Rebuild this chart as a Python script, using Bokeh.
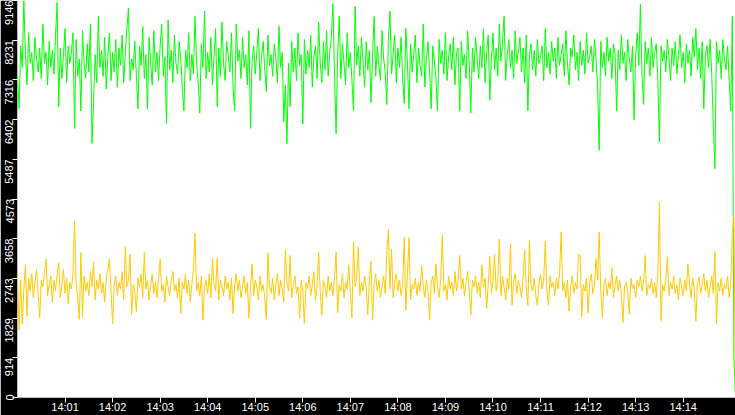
import pandas as pd
from bokeh.plotting import figure
from bokeh.models import Range1d, FixedTicker, DatetimeTickFormatter, ColumnDataSource
from bokeh.embed import file_html
from bokeh.resources import INLINE

# ---- data (2-second samples from 14:00:00) ----
START = "2024-01-01 14:00:00"
STEP_SECONDS = 2

GREEN = [
    7400, 6650, 8100, 7600, 9146, 7900, 7200, 8400, 7700, 7950, 7300, 8300, 7800, 7500, 8050, 7350, 8600, 7700, 7950, 7200,
    8200, 7600, 8000, 7450, 8350, 9100, 6700, 8050, 7350, 7900, 8500, 7250, 8100, 7700, 7950, 8400, 6200, 8250, 7400, 7800,
    6600, 8450, 7700, 7350, 8150, 7500, 8600, 5850, 6800, 7900, 7250, 8780, 7600, 8000, 7400, 8300, 7100, 7850, 8400, 7300,
    7950, 7500, 8250, 7150, 8050, 7650, 8350, 7250, 7900, 8500, 8970, 7300, 7800, 7550, 8200, 7400, 6650, 8100, 7650, 8550,
    7350, 7900, 6650, 8300, 7700, 7200, 8450, 7500, 7950, 7300, 8100, 8600, 7400, 7850, 6310, 8700, 7550, 8000, 7250, 8350,
    7700, 7450, 8200, 7800, 7100, 6600, 8000, 7600, 8400, 7300, 7900, 7450, 8780, 7700, 7250, 6550, 8150, 7600, 8900, 7350,
    7950, 7500, 8300, 7200, 7850, 8500, 6700, 8050, 7400, 8650, 7700, 7300, 8200, 7850, 7500, 8400, 7150, 6600, 8600, 7750,
    8000, 7350, 8300, 7600, 7900, 7200, 8450, 6200, 7750, 8100, 7450, 7950, 8500, 7300, 7850, 8200, 7550, 7050, 8350, 7650,
    7900, 7400, 8150, 7800, 7250, 8550, 7600, 7950, 6350, 7200, 5850, 7700, 6700, 8200, 7500, 8050, 7300, 8400, 7650, 7900,
    6300, 8250, 7450, 8000, 7600, 8350, 7150, 7850, 8100, 7350, 8650, 7700, 7250, 8200, 7550, 8450, 7400, 7950, 8300, 9080,
    7500, 6080, 7900, 8780, 7350, 8150, 7700, 7200, 8400, 7600, 7950, 7300, 6600, 9010, 7650, 8100, 7400, 8300, 7750, 7150,
    8200, 7550, 8000, 6800, 7850, 8780, 7400, 8100, 7650, 7300, 8450, 7800, 7500, 6750, 8250, 8900, 7450, 7900, 8350, 7250,
    8050, 7600, 8300, 7350, 6780, 8500, 7700, 6650, 8150, 7500, 7900, 8350, 7250, 8050, 7650, 7400, 8600, 7150, 7800, 8200,
    7500, 6650, 8100, 7750, 7350, 6600, 8250, 7700, 8000, 7450, 8400, 7300, 7850, 8150, 7550, 8300, 7200, 7950, 8050, 6600,
    8200, 7650, 7900, 7350, 8450, 7700, 6550, 8050, 7500, 8300, 7800, 7350, 8100, 7600, 8500, 7250, 7950, 8350, 6850, 7800,
    8400, 7550, 8050, 7400, 8600, 7750, 8150, 8780, 7300, 7900, 8250, 7600, 8000, 7350, 8450, 7700, 7950, 8300, 7500, 8050,
    7250, 8350, 6600, 7900, 8150, 7550, 8000, 7400, 8250, 7700, 7850, 8100, 7300, 8500, 7600, 7950, 7450, 8200, 7750, 8050,
    7350, 8300, 7650, 7900, 8150, 7400, 8450, 7700, 7200, 8050, 7850, 8350, 7550, 7950, 7300, 8200, 7650, 8000, 7450, 8400,
    7700, 7850, 8100, 7500, 8250, 7800, 7150, 5700, 8200, 7600, 7950, 7400, 8300, 7750, 8050, 7350, 8150, 7900, 6600, 8000,
    7550, 8350, 7700, 7950, 7300, 8250, 7800, 7500, 8100, 6400, 7900, 8400, 7650, 9060, 7450, 6750, 8200, 7700, 8050, 7400,
    8300, 7600, 7950, 8150, 7350, 5880, 8100, 7750, 8000, 7500, 8250, 7850, 7300, 8050, 7650, 8200, 7450, 7900, 8350, 7600,
    7950, 7250, 8150, 7700, 8000, 7400, 8300, 7850, 8500, 7550, 8050, 7350, 8200, 6650, 7900, 8100, 7600, 8250, 7450, 6300,
    5270, 8200, 7700, 8000, 7350, 8250, 7800, 7550, 8100, 7300, 6600, 8780, 950, 0,
]

YELLOW = [
    2900, 1550, 2700, 1700, 2500, 3060, 1880, 2750, 2450, 2850, 2300, 2650, 2950, 2400, 1830, 2700, 2550, 2900, 3190, 2350,
    2600, 2800, 2200, 2700, 2450, 2850, 3100, 2300, 2600, 2950, 2400, 2750, 2150, 2650, 2500, 2850, 4070, 2600, 2300, 1800,
    3340, 1850, 2800, 2450, 2650, 2350, 2900, 2550, 3120, 2250, 2700, 2500, 2850, 2400, 2650, 2200, 2750, 2950, 3190, 2450,
    1700, 2600, 2800, 2350, 2650, 2500, 2900, 2250, 3470, 2550, 2700, 3300, 1900, 2600, 2450, 1980, 2750, 2550, 2850, 2300,
    3340, 2500, 2700, 2250, 2600, 2850, 2400, 2650, 2300, 2750, 3190, 2450, 2600, 2200, 2800, 2550, 2350, 2700, 2900, 2450,
    2600, 2300, 2750, 1930, 2650, 2500, 2850, 2400, 2700, 2200, 2600, 2950, 3790, 2450, 2650, 2350, 2800, 1780, 2550, 2700,
    2400, 2850, 2300, 3190, 2600, 2450, 3210, 2250, 2700, 2550, 2350, 2800, 2500, 2650, 2250, 2750, 1930, 2600, 2850, 2450,
    2700, 2300, 2550, 2800, 2400, 2650, 1830, 2500, 3080, 2350, 2700, 2550, 2250, 2800, 2450, 2600, 2300, 1800, 3330, 2550,
    2400, 2750, 2250, 2600, 2850, 2350, 2700, 2500, 2200, 3390, 2650, 2450, 3270, 2300, 2600, 2800, 2400, 2550, 1830, 2700,
    2450, 1710, 2650, 2500, 2800, 2350, 2600, 2900, 2250, 2550, 3350, 2450, 1900, 2700, 2550, 2300, 2800, 2450, 2650, 2350,
    2750, 3350, 1950, 2600, 2450, 2850, 2300, 2650, 2500, 3060, 2400, 1830, 3590, 2550, 2750, 3470, 2350, 2650, 2450, 2800,
    2550, 1900, 2700, 3140, 1780, 2600, 2850, 2450, 2700, 2300, 2550, 2800, 2400, 3330, 3880, 2500, 3420, 2300, 2650, 2850,
    2450, 2700, 2350, 2600, 3690, 2010, 2800, 3680, 2250, 2600, 2500, 2750, 2350, 2650, 2450, 3040, 2550, 2300, 2700, 2450,
    1780, 2650, 2800, 2400, 3080, 2550, 2300, 2700, 3740, 2450, 2600, 2250, 2800, 2500, 2650, 2350, 2900, 2450, 2700, 3270,
    2500, 2750, 2350, 2650, 2900, 2450, 1900, 2700, 2550, 2800, 2400, 2650, 2300, 3050, 2550, 2750, 2050, 2600, 3250, 2400,
    2700, 3300, 2450, 2650, 3650, 2350, 2800, 2550, 2250, 2750, 2500, 3540, 2130, 2650, 2850, 2400, 2700, 2550, 2300, 2800,
    3400, 2500, 2120, 3620, 2600, 2450, 2750, 2350, 2120, 2650, 2850, 2500, 2700, 3600, 2450, 2120, 2800, 2550, 2650, 2350,
    2750, 2500, 2850, 3810, 2450, 2650, 2300, 2700, 1990, 2550, 2800, 2400, 2650, 2500, 3300, 3270, 1860, 2600, 2450, 2750,
    1940, 2650, 2850, 2400, 2550, 3200, 2700, 3810, 2450, 1840, 2600, 2750, 2350, 2650, 2500, 2990, 2300, 2600, 2800, 2450,
    2700, 2350, 1730, 2550, 2650, 2400, 1920, 2750, 2500, 2600, 2300, 2700, 2550, 2800, 2450, 2650, 3270, 2350, 2600, 2500,
    2750, 2400, 2650, 2300, 2850, 4500, 1770, 2600, 2450, 2700, 3230, 2350, 2650, 2500, 2800, 2400, 2600, 2250, 2750, 2550,
    2350, 2700, 2450, 3080, 2600, 2300, 2750, 2500, 1760, 2650, 2780, 2400, 2600, 2850, 2450, 2700, 2300, 2550, 2800, 2400,
    3360, 1690, 2650, 2450, 2750, 2350, 2600, 2500, 2800, 2300, 2650, 3800, 4150, 0,
]

Y_MAX = 9146
Y_TICKS = [0, 914, 1829, 2743, 3658, 4573, 5487, 6402, 7316, 8231, 9146]
X_TICK_MINUTES = ["14:01", "14:02", "14:03", "14:04", "14:05", "14:06", "14:07",
                  "14:08", "14:09", "14:10", "14:11", "14:12", "14:13", "14:14"]

n = min(len(GREEN), len(YELLOW))
times = pd.date_range(START, periods=n, freq=f"{STEP_SECONDS}s")
src = ColumnDataSource(dict(t=times, g=GREEN[:n], y=YELLOW[:n]))

day = START.split(" ")[0]
x_ticks = [pd.Timestamp(f"{day} {m}:00").value / 1e6 for m in X_TICK_MINUTES]

FONT = "Liberation Sans"

p = figure(width=735, height=415, x_axis_type="datetime",
           output_backend="svg", toolbar_location=None,
           x_range=Range1d(times[0], times[-1]),
           y_range=Range1d(0, Y_MAX),
           min_border_left=0, min_border_right=0, min_border_top=0, min_border_bottom=0)

p.background_fill_color = "white"
p.border_fill_color = "black"
p.outline_line_color = None
p.xgrid.visible = False
p.ygrid.visible = False

p.line("t", "g", source=src, line_color="#00FF00", line_width=1)
p.line("t", "y", source=src, line_color="#FFC800", line_width=1)

# x axis
xa = p.xaxis[0]
xa.ticker = FixedTicker(ticks=x_ticks)
fmt = "%H:%M"
xa.formatter = DatetimeTickFormatter(seconds=fmt, minsec=fmt, minutes=fmt, hourmin=fmt, hours=fmt)
xa.axis_line_color = None
xa.major_tick_line_color = "white"
xa.major_tick_in = 0
xa.major_tick_out = 5
xa.minor_tick_line_color = None
xa.major_label_text_color = "white"
xa.major_label_text_font = FONT
xa.major_label_text_font_size = "11px"
xa.major_label_standoff = -2

# y axis
ya = p.yaxis[0]
ya.ticker = FixedTicker(ticks=Y_TICKS)
overrides = {}
for t in Y_TICKS:
    s = str(t)
    overrides[t] = s if t in (0, Y_MAX) else s + "\u2007" * len(s)
ya.major_label_overrides = overrides
ya.major_label_orientation = "vertical"
ya.axis_line_color = None
ya.major_tick_line_color = "white"
ya.major_tick_in = 0
ya.major_tick_out = 5
ya.minor_tick_line_color = None
ya.major_label_text_color = "white"
ya.major_label_text_font = FONT
ya.major_label_text_font_size = "11px"
ya.major_label_standoff = -3

open("out.html", "w").write(file_html(p, INLINE))
